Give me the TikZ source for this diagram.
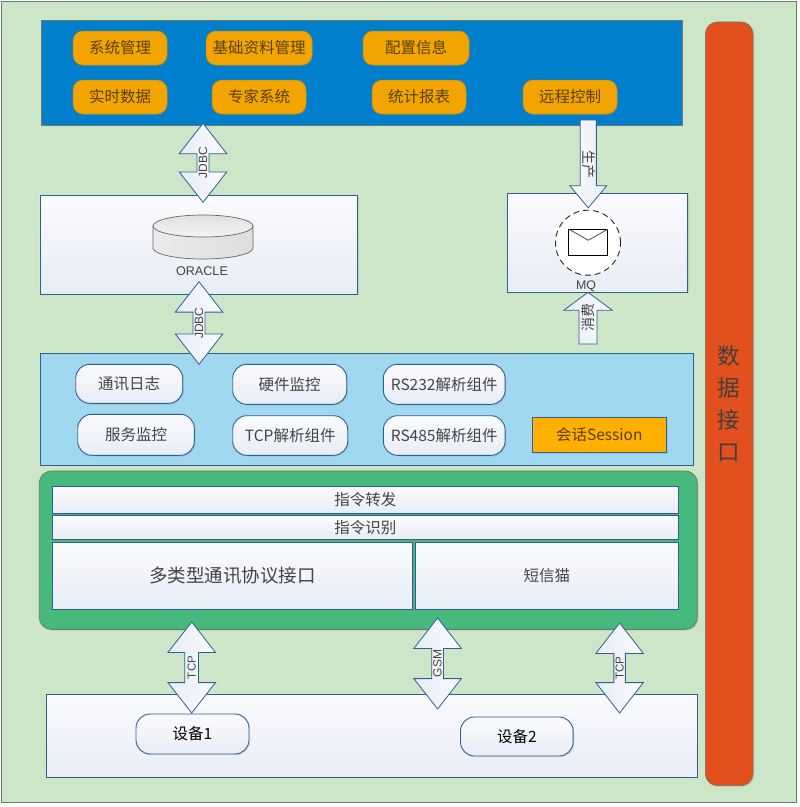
\documentclass[tikz,border=0pt]{standalone}
\usepackage{fontspec}
\setmainfont{Noto Sans CJK SC}
\newfontfamily\arialfont{Liberation Sans}
\usetikzlibrary{positioning, shapes.arrows, shadows}
\definecolor{archCanvas}{HTML}{CDE6C7}
\definecolor{archFrame}{HTML}{6E7770}
\definecolor{archBlue}{HTML}{0080CC}
\definecolor{archOrange}{HTML}{F2A500}
\definecolor{archAmber}{HTML}{FFB000}
\definecolor{archSky}{HTML}{A0D8F0}
\definecolor{archGreen}{HTML}{46B97C}
\definecolor{archRed}{HTML}{E2501E}
\definecolor{archLine}{HTML}{2F5F94}
\definecolor{archTop}{HTML}{FAFBFE}
\definecolor{archBottom}{HTML}{E8ECF5}
\definecolor{archText}{HTML}{444444}
\definecolor{archBrown}{HTML}{5A4000}
\tikzset{
    every node/.style={inner sep=0pt, outer sep=0pt},
    softshadow/.style={drop shadow={opacity=0.22, shadow xshift=1.2pt, shadow yshift=-1.2pt}},
    cntext/.style={font=\fontsize{15.5}{18}\selectfont, text=archText},
    whitebox/.style={cntext, draw=archLine, line width=0.9pt, top color=archTop, bottom color=archBottom, softshadow},
    whitepill/.style={whitebox, rounded corners=14pt},
    orangepill/.style={cntext, text=archBrown, fill=archOrange, draw=archOrange!85!black, line width=0.5pt, rounded corners=10pt, minimum height=34pt, softshadow},
    dblarrow/.style={double arrow, double arrow head extend=#1, double arrow tip angle=76, double arrow head indent=0pt,
        minimum width=47.5pt, draw=archLine, line width=0.8pt, left color=archBottom, right color=archTop, rotate=90, text=archText,
        font=\arialfont\fontsize{12}{14}\selectfont},
    sglarrow/.style={single arrow, single arrow head indent=0pt, draw=archLine, line width=0.8pt, text=archText,
        font=\fontsize{14}{16}\selectfont},
}
\begin{document}
\begin{tikzpicture}[x=1pt, y=-1pt]
    \useasboundingbox (0,0) rectangle (800,807);
    \node[draw=archFrame, line width=1pt, fill=archCanvas, minimum width=795.5pt, minimum height=801.5pt] (canvas) at (399,402) {};

    \node[fill=archBlue, draw=archFrame, line width=0.8pt, minimum width=641pt, minimum height=105pt] (app) at (361.5,72.5) {};
    \node[orangepill, minimum width=94pt] (sysmgr) at (120,48) {系统管理};
    \node[orangepill, minimum width=106pt, right=39pt of sysmgr] (basedata) {基础资料管理};
    \node[orangepill, minimum width=106pt, right=51pt of basedata] (config) {配置信息};
    \node[orangepill, minimum width=94pt, below=15pt of sysmgr] (realtime) {实时数据};
    \node[orangepill, minimum width=94pt, right=45pt of realtime] (expert) {专家系统};
    \node[orangepill, minimum width=94pt, right=66pt of expert] (stats) {统计报表};
    \node[orangepill, minimum width=94pt, right=57pt of stats] (remote) {远程控制};

    \node[whitebox, minimum width=317.7pt, minimum height=98.7pt] (oraclebox) at (198.8,244.7) {};
    \draw[draw=black!60, line width=0.7pt, left color=white!92!black, right color=black!13] (153,226) -- (153,248)
        arc[start angle=180, end angle=360, x radius=50pt, y radius=11pt] -- (253,226) -- cycle;
    \draw[draw=black!60, line width=0.7pt, top color=black!12, bottom color=white!96!black] (203,226) circle[x radius=50pt, y radius=11pt];
    \node[font=\arialfont\fontsize{12.6}{14}\selectfont, text=archText] (oracle) at (202,271) {ORACLE};

    \node[whitebox, minimum width=180.5pt, minimum height=99pt] (mqbox) at (597.5,242.5) {};
    \node[circle, draw=black!85, fill=white, line width=0.9pt, dash pattern=on 6pt off 4pt, minimum size=65pt] (mqring) at (588,242.7) {};
    \node[draw=black, fill=white, line width=1pt, minimum width=38.7pt, minimum height=26.5pt] (mail) at (588.3,242.5) {};
    \draw[black!70, line width=0.8pt] (mail.north west) -- ++(19.35,11) -- (mail.north east);
    \node[font=\arialfont\fontsize{12.4}{14}\selectfont, text=archText] (mq) at (586,286) {MQ};

    \node[fill=archSky, draw=archLine, line width=0.8pt, minimum width=653.7pt, minimum height=112pt] (service) at (366.9,409.3) {};
    \node[whitepill, minimum width=107pt, minimum height=39pt] (commlog) at (129.2,383.8) {通讯日志};
    \node[whitepill, minimum width=114pt, minimum height=40pt] (hwmon) at (289.7,384.3) {硬件监控};
    \node[whitepill, minimum width=121.7pt, minimum height=40pt] (rsA) at (444.2,384.3) {RS232解析组件};
    \node[whitepill, minimum width=116.6pt, minimum height=41pt] (svcmon) at (136,434.8) {服务监控};
    \node[whitepill, minimum width=115pt, minimum height=39.6pt] (tcpparse) at (290.2,435.5) {TCP解析组件};
    \node[whitepill, minimum width=121.7pt, minimum height=39.6pt] (rsB) at (444.2,435.5) {RS485解析组件};
    \node[cntext, text=archBrown, fill=archAmber, draw=archLine, line width=0.8pt, minimum width=134pt, minimum height=35.4pt, softshadow] (session) at (599.3,435) {会话Session};

    \node[fill=archGreen, draw=archFrame, line width=0.8pt, rounded corners=12pt, minimum width=658pt, minimum height=158.3pt, softshadow] (gateway) at (368.3,550.2) {};
    \node[whitebox, minimum width=625.3pt, minimum height=27.7pt] (cmdfwd) at (365.4,499.9) {指令转发};
    \node[whitebox, minimum width=625.3pt, minimum height=24.3pt, below=1.3pt of cmdfwd] (cmdrec) {指令识别};
    \node[whitebox, font=\fontsize{18.5}{22}\selectfont, minimum width=360pt, minimum height=66.6pt] (proto) at (232.7,576) {多类型通讯协议接口};
    \node[whitebox, minimum width=262.3pt, minimum height=66.6pt, right=3pt of proto] (sms) {短信猫};

    \node[whitebox, minimum width=651pt, minimum height=83pt] (devices) at (371.5,735.5) {};
    \node[whitepill, text=black, minimum width=113pt, minimum height=40pt] (devA) at (192.5,734) {设备1};
    \node[whitepill, text=black, minimum width=112.6pt, minimum height=39pt] (devB) at (516.8,736.5) {设备2};

    \node[fill=archRed, draw=archFrame, line width=0.6pt, rounded corners=12pt, minimum width=47.7pt, minimum height=763.7pt, softshadow,
        font=\fontsize{22.5}{32}\selectfont, text=black!75, align=center] (datapi) at (729.2,403.8) {数\\据\\接\\口};

    \node[dblarrow=13.8pt, minimum height=79pt] (jdbcA) at (203,162.8) {JDBC};
    \node[dblarrow=13.8pt, minimum height=82.6pt] (jdbcB) at (199,323) {JDBC};
    \node[sglarrow, rotate=-90, left color=archTop, right color=archBottom, single arrow head extend=8.8pt, single arrow tip angle=79.5,
        minimum width=36.7pt, minimum height=88pt] (produce) at (588.3,159) {\hspace*{10pt}生产};
    \node[sglarrow, rotate=90, left color=archBottom, right color=archTop, single arrow head extend=11.7pt, single arrow tip angle=107,
        minimum width=48.7pt, minimum height=51.7pt] (consume) at (588,321.5) {\hspace*{9pt}消费};
    \node[dblarrow=11pt, minimum height=91pt, font=\arialfont\fontsize{11.5}{14}\selectfont] (tcpA) at (191.7,667.5) {TCP};
    \node[dblarrow=14pt, minimum height=91pt] (gsm) at (437.6,663.5) {GSM};
    \node[dblarrow=14pt, minimum height=90pt, font=\arialfont\fontsize{11.5}{14}\selectfont] (tcpB) at (619.6,668) {TCP};
\end{tikzpicture}
\end{document}
